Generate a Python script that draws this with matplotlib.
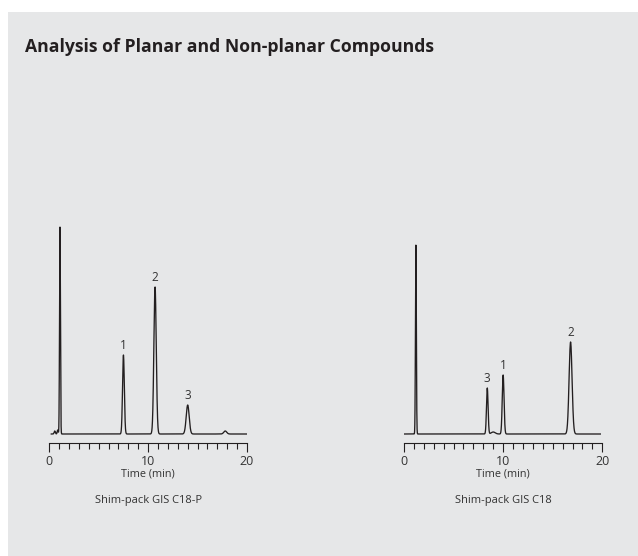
import numpy as np
import matplotlib
matplotlib.use("Agg")
import matplotlib.pyplot as plt
from matplotlib.patches import Rectangle

plt.rcParams['font.family'] = ['Open Sans', 'DejaVu Sans']

title = "Analysis of Planar and Non-planar Compounds"
xlabel = "Time (min)"
xticks = [0, 10, 20]

# Left chromatogram: Shim-pack GIS C18-P
left_name = "Shim-pack GIS C18-P"
left_rt = [0.55, 0.85, 1.08, 7.5, 10.7, 14.0, 17.8]
left_h = [3.0, 4.0, 207.0, 79.0, 147.0, 29.0, 3.0]
left_sig = [0.06, 0.05, 0.045, 0.09, 0.12, 0.15, 0.15]
left_lab = ["", "", "", "1", "2", "3", ""]
left_range = (0.2, 20.0)

# Right chromatogram: Shim-pack GIS C18
right_name = "Shim-pack GIS C18"
right_rt = [1.2, 8.4, 9.0, 10.0, 16.8]
right_h = [189.0, 46.0, 2.0, 59.0, 92.0]
right_sig = [0.045, 0.08, 0.2, 0.09, 0.15]
right_lab = ["", "3", "", "1", "2"]
right_range = (0.0, 19.8)

W, H = 638, 556
fig = plt.figure(figsize=(W / 100, H / 100), dpi=100)
fig.patch.set_facecolor('white')
bg = '#e6e7e8'
fig.add_artist(Rectangle((8 / W, 0), 1 - 8 / W, 1 - 12 / H, transform=fig.transFigure,
                         facecolor=bg, edgecolor='none', zorder=0))

fig.text(25 / W, 1 - 47 / H, title, fontsize=12.7, fontweight='bold', color='#231f20',
         ha='left', va='center')

ink = '#231f20'


def panel(x0px, x1px, rts, hs, sigs, labs, trange, name):
    axis_y = 442.5
    top_y = 215.0
    base_off = 8.5
    ax = fig.add_axes([x0px / W, 1 - axis_y / H, (x1px - x0px) / W, (axis_y - top_y) / H])
    ax.set_facecolor('none')
    ax.set_xlim(0, 20)
    ax.set_ylim(-base_off, axis_y - top_y - base_off)
    t = np.linspace(trange[0], trange[1], 4000)
    y = np.zeros_like(t)
    for rt, h, s in zip(rts, hs, sigs):
        y += h * np.exp(-0.5 * ((t - rt) / s) ** 2)
    ax.plot(t, y, color=ink, lw=0.95, solid_joinstyle='round')
    for rt, h, lab in zip(rts, hs, labs):
        if lab:
            ax.annotate(lab, (rt, h), xytext=(0, 2), textcoords='offset points',
                        ha='center', va='bottom', fontsize=8.5, color='#333333')
    for s in ['left', 'top', 'right']:
        ax.spines[s].set_visible(False)
    ax.spines['bottom'].set_color(ink)
    ax.spines['bottom'].set_linewidth(0.8)
    ax.set_yticks([])
    ax.set_xticks(xticks)
    ax.set_xticks(np.arange(0, 21, 1), minor=True)
    ax.tick_params(axis='x', which='major', direction='out', length=6.5, width=0.8,
                   color=ink, labelsize=9, labelcolor='#333333', pad=2.5)
    ax.tick_params(axis='x', which='minor', direction='out', length=4.5, width=0.8, color=ink)
    ax.set_xlabel(xlabel, fontsize=7.8, color='#333333', labelpad=0.5)
    fig.text((x0px + x1px) / 2 / W, 1 - 501 / H, name, fontsize=8, color='#333333',
             ha='center', va='center')
    return ax


panel(49.3, 247.0, left_rt, left_h, left_sig, left_lab, left_range, left_name)
panel(404.0, 602.3, right_rt, right_h, right_sig, right_lab, right_range, right_name)

fig.savefig('out.png', dpi=100, facecolor=fig.get_facecolor())
